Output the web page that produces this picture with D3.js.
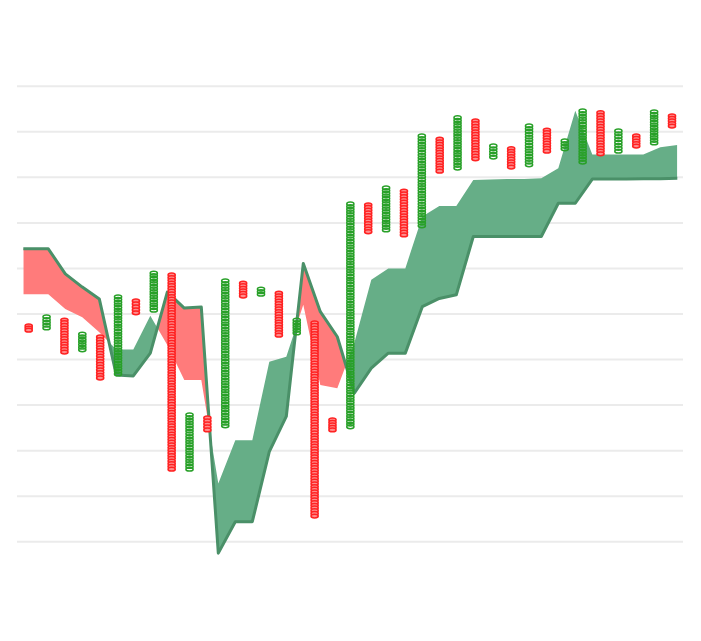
<!DOCTYPE html>
<html><head><meta charset="utf-8">
<script src="https://cdn.jsdelivr.net/npm/d3@7"></script>
<style>html,body{margin:0;padding:0;background:#fff;} svg{display:block;}</style>
</head><body><svg id="chart" width="701" height="641"></svg>
<script>
// ---- data ----
const candleOpen  = [47.7, 46.4, 49.0, 41.6, 45.3, 36.3, 53.2, 50.3, 58.9, 15.4, 27.5, 24.9, 57.1, 53.8, 54.9, 45.3, 48.4, 27.1, 24.7, 74.3, 67.9, 77.3, 68.8, 88.7, 81.5, 92.7, 83.9, 86.6, 82.2, 90.7, 85.7, 82.8, 94.5, 85.2, 89.4, 87.0, 93.8];
const candleClose = [45.9, 49.7, 41.1, 45.9, 35.4, 54.1, 49.7, 59.3, 15.4, 28.2, 24.0, 57.6, 53.4, 55.8, 44.8, 49.0,  5.1, 24.0, 74.5, 67.5, 78.0, 66.8, 89.4, 80.8, 93.4, 83.5, 87.2, 81.7, 91.6, 85.2, 88.3, 94.9, 84.6, 90.5, 86.3, 94.7, 90.7];
const cloudPeriods = [-1.47, 0, 1, 2, 3, 4, 5, 6, 7, 8, 9, 10, 11, 12, 13, 14, 15, 16, 17, 18, 19, 20, 21, 22, 23, 24, 25, 26, 27, 28, 29, 30, 31, 32, 33, 34, 35, 36, 37];
const spanA = [64.2, 64.2, 58.7, 55.8, 53.2, 36.5, 36.3, 41.3, 54.7, 51.2, 51.4, -2.6, 4.3, 4.3, 19.7, 27.4, 61.0, 50.4, 44.9, 32.5, 38.0, 41.3, 41.3, 51.5, 53.3, 54.1, 66.9, 66.9, 66.9, 66.9, 66.9, 74.2, 74.2, 79.5, 79.5, 79.5, 79.6, 79.6, 79.7];
const spanB = [54.2, 54.2, 51.0, 49.2, 45.9, 42.1, 42.1, 49.5, 43.1, 35.4, 35.4, 12.7, 22.2, 22.2, 39.4, 40.5, 51.9, 34.3, 33.6, 43.5, 57.4, 59.9, 59.9, 71.3, 73.6, 73.6, 79.3, 79.4, 79.5, 79.5, 79.7, 81.9, 94.5, 84.9, 84.9, 84.9, 84.9, 86.5, 87.0];
const gridTicks = [0, 10, 20, 30, 40, 50, 60, 70, 80, 90, 100];

// ---- scales ----
const W = 701, H = 641;
const svg = d3.select("#chart");
const x  = d3.scaleLinear().domain([0, candleOpen.length - 1]).range([28.7, 672]);
const xc = d3.scaleLinear().domain([0, 37]).range([48.3, 677.3]);
const y  = d3.scaleLinear().domain([0, 100]).range([541.3, 85.7]);

// ---- grid ----
const grid = svg.append("g").attr("transform", "translate(683,0)")
  .call(d3.axisLeft(y).tickValues(gridTicks).tickSize(666).tickFormat(""));
grid.select(".domain").remove();
grid.selectAll(".tick line").attr("stroke", "#ebebeb").attr("stroke-width", 2);

// ---- cloud (difference chart) ----
const cloud = cloudPeriods.map((p, i) => ({p, a: spanA[i], b: spanB[i]}));
const defs = svg.append("defs");
defs.append("clipPath").attr("id", "clipAbove").append("path")
  .attr("d", d3.area().x(d => xc(d.p)).y0(0).y1(d => y(d.a))(cloud));
defs.append("clipPath").attr("id", "clipBelow").append("path")
  .attr("d", d3.area().x(d => xc(d.p)).y0(H).y1(d => y(d.a))(cloud));

svg.append("path").attr("clip-path", "url(#clipAbove)")
  .attr("fill", "#66ae87")
  .attr("d", d3.area().x(d => xc(d.p)).y0(H).y1(d => y(d.b))(cloud));
svg.append("path").attr("clip-path", "url(#clipBelow)")
  .attr("fill", "#ff7b7b")
  .attr("d", d3.area().x(d => xc(d.p)).y0(0).y1(d => y(d.b))(cloud));
svg.append("path")
  .attr("fill", "none").attr("stroke", "#4a9068").attr("stroke-width", 3)
  .attr("stroke-linejoin", "round")
  .attr("d", d3.line().x(d => xc(d.p)).y(d => y(d.a))(cloud));

// ---- candles (stacked ellipses) ----
const candles = candleOpen.map((o, i) => ({i, o, c: candleClose[i]}));
const cg = svg.append("g");
candles.forEach(d => {
  const up = d.c >= d.o;
  const top = y(Math.max(d.o, d.c)) + 2, bot = y(Math.min(d.o, d.c)) - 2;
  const n = Math.max(1, Math.round((bot - top) / 2.7));
  const ys = d3.range(n + 1).map(k => top + (bot - top) * k / n);
  cg.selectAll(null).data(ys).enter().append("ellipse")
    .attr("cx", x(d.i)).attr("cy", v => v)
    .attr("rx", 3.6).attr("ry", 1.9)
    .attr("fill", up ? "none" : "#ff8c8c")
    .attr("stroke", up ? "#28a028" : "#ff2222")
    .attr("stroke-width", 1.5);
});
</script>
</body></html>
